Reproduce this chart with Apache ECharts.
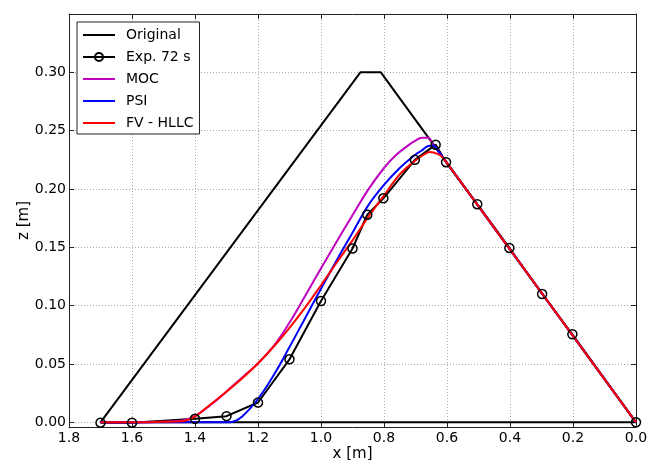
<!DOCTYPE html>
<html>
<head>
<meta charset="utf-8">
<script src="https://cdn.jsdelivr.net/npm/echarts@6/dist/echarts.min.js"></script>
<style>html,body{margin:0;padding:0;background:#fff;}#c{width:660px;height:460px;}</style>
</head>
<body>
<div id="c"></div>
<script>
// ---- data ----
const seriesNames = ['Original', 'Exp. 72 s', 'MOC', 'PSI', 'FV - HLLC'];

const xOriginal = [1.7, 0.875, 0.81, 0.0, 1.7];
const zOriginal = [0, 0.30, 0.30, 0, 0];

const xExp = [1.7, 1.6, 1.4, 1.3, 1.2, 1.1, 1.0, 0.9, 0.853, 0.802, 0.702, 0.636, 0.603, 0.504, 0.402, 0.298, 0.202, 0.0];
const zExp = [-0.0003, -0.0003, 0.003, 0.0053, 0.017, 0.054, 0.104, 0.149, 0.178, 0.192, 0.225, 0.238, 0.223, 0.187, 0.1495, 0.110, 0.0755, 0.0];

const xMOC = [1.7, 1.6, 1.5, 1.44, 1.40, 1.35, 1.30, 1.25, 1.20, 1.15, 1.10, 1.05, 1.00, 0.95, 0.90, 0.85, 0.80, 0.76, 0.72, 0.70, 0.68, 0.66, 0.645, 0.635, 0.0];
const zMOC = [0, 0, 0.0005, 0.0015, 0.0055, 0.015, 0.0265, 0.0385, 0.0505, 0.0655, 0.0855, 0.1085, 0.132, 0.155, 0.1775, 0.1995, 0.2180, 0.2295, 0.2380, 0.2415, 0.2440, 0.2440, 0.2385, 0.2352, 0.0];

const xPSI = [1.7, 1.5, 1.42, 1.30, 1.28, 1.25, 1.20, 1.15, 1.10, 1.05, 1.00, 0.95, 0.90, 0.85, 0.80, 0.75, 0.70, 0.68, 0.66, 0.645, 0.63, 0.0];
const zPSI = [0, 0, 0, 0, 0.0005, 0.005, 0.020, 0.0405, 0.0645, 0.0895, 0.1145, 0.139, 0.1625, 0.186, 0.2035, 0.218, 0.2295, 0.233, 0.2368, 0.2372, 0.2333, 0.0];

const xFV = [1.7, 1.6, 1.5, 1.44, 1.40, 1.374, 1.321, 1.257, 1.202, 1.15, 1.10, 1.05, 1.00, 0.95, 0.90, 0.85, 0.80, 0.75, 0.70, 0.67, 0.654, 0.64, 0.625, 0.612, 0.0];
const zFV = [0, 0, 0.0005, 0.001, 0.005, 0.0103, 0.0217, 0.036, 0.05, 0.065, 0.081, 0.0985, 0.1175, 0.137, 0.156, 0.176, 0.1945, 0.2125, 0.2245, 0.230, 0.2318, 0.231, 0.2295, 0.2267, 0.0];

const yTicks = [0, 0.05, 0.10, 0.15, 0.20, 0.25, 0.30];
const xMin = 0, xMax = 1.8, xStep = 0.2;
const yMin = -0.004, yMax = 0.35;

// ---- chart ----
const pair = (xs, zs) => xs.map((x, i) => [x, zs[i]]);
const FONT = 'DejaVu Sans';
const frame = { lineStyle: { color: '#222', width: 1 } };
const gridLine = { show: true, lineStyle: { color: '#ababab', width: 1, type: [1, 2] } };
const noSym = { color: 'rgba(0,0,0,0)', borderColor: 'rgba(0,0,0,0)', borderWidth: 0 };

// simulated curves: smooth part up to where they rejoin the original slope, straight tail to the toe
function curveSeries(name, xs, zs, color) {
  const pts = pair(xs, zs);
  const n = pts.length;
  return [
    { name, type: 'line', data: pts.slice(0, n - 1), symbol: 'none', smooth: 0.4,
      lineStyle: { color, width: 2 }, itemStyle: { color } },
    { name, type: 'line', data: pts.slice(n - 2), symbol: 'none',
      lineStyle: { color, width: 2 }, itemStyle: { color } }
  ];
}

const chart = echarts.init(document.getElementById('c'), null, { renderer: 'canvas' });
chart.setOption({
  animation: false,
  backgroundColor: '#fff',
  grid: { left: 69, right: 24, top: 14, bottom: 33, containLabel: false, outerBoundsMode: 'none' },
  legend: {
    left: 77, top: 22,
    orient: 'vertical',
    data: [
      { name: seriesNames[0], itemStyle: noSym },
      { name: seriesNames[1] },
      { name: seriesNames[2], itemStyle: noSym },
      { name: seriesNames[3], itemStyle: noSym },
      { name: seriesNames[4], itemStyle: noSym }
    ],
    itemWidth: 32, itemHeight: 10, itemGap: 8,
    padding: [6, 6, 4, 5],
    backgroundColor: '#fff',
    borderColor: '#222', borderWidth: 1, borderRadius: 0,
    textStyle: { fontSize: 14, fontFamily: FONT, color: '#000', lineHeight: 14, padding: [0, 0, 0, 6] }
  },
  xAxis: [{
    type: 'value', min: xMin, max: xMax, interval: xStep, inverse: true,
    name: 'x [m]', nameLocation: 'middle', nameGap: 20, nameMoveOverlap: false,
    nameTextStyle: { fontSize: 15, fontFamily: FONT, color: '#000' },
    axisLine: Object.assign({ onZero: false }, frame),
    axisTick: { inside: true, length: 5, lineStyle: { color: '#222' } },
    axisLabel: { margin: 4, fontSize: 14, fontFamily: FONT, color: '#000', formatter: v => v.toFixed(1) },
    splitLine: gridLine
  }, {
    type: 'value', min: xMin, max: xMax, interval: xStep, inverse: true, position: 'top',
    axisLine: Object.assign({ onZero: false }, frame),
    axisTick: { inside: true, length: 5, lineStyle: { color: '#222' } },
    axisLabel: { show: false }, splitLine: { show: false }
  }],
  yAxis: [{
    type: 'value', min: yMin, max: yMax,
    name: 'z [m]', nameLocation: 'middle', nameGap: 37, nameRotate: 90, nameMoveOverlap: false,
    nameTextStyle: { fontSize: 15, fontFamily: FONT, color: '#000' },
    axisLine: Object.assign({ show: true, onZero: false }, frame),
    axisTick: { show: true, inside: true, length: 5, customValues: yTicks, lineStyle: { color: '#222' } },
    axisLabel: { margin: 3, fontSize: 14, fontFamily: FONT, color: '#000', customValues: yTicks, formatter: v => v.toFixed(2) },
    splitLine: gridLine
  }, {
    type: 'value', min: yMin, max: yMax, position: 'right',
    axisLine: Object.assign({ show: true, onZero: false }, frame),
    axisTick: { show: true, inside: true, length: 5, customValues: yTicks, lineStyle: { color: '#222' } },
    axisLabel: { show: false, customValues: yTicks }, splitLine: { show: false }
  }],
  series: [
    { name: 'Original', type: 'line', data: pair(xOriginal, zOriginal), symbol: 'none',
      lineStyle: { color: '#000', width: 2 }, itemStyle: { color: '#000' } },
    { name: 'Exp. 72 s', type: 'line', data: pair(xExp, zExp), symbol: 'circle', symbolSize: 9,
      lineStyle: { color: '#000', width: 2 },
      itemStyle: { color: 'rgba(255,255,255,0)', borderColor: '#000', borderWidth: 1.5 } }
  ].concat(
    curveSeries('MOC', xMOC, zMOC, '#bf00bf'),
    curveSeries('PSI', xPSI, zPSI, '#0000ff'),
    curveSeries('FV - HLLC', xFV, zFV, '#ff0000')
  )
});
</script>
</body>
</html>
